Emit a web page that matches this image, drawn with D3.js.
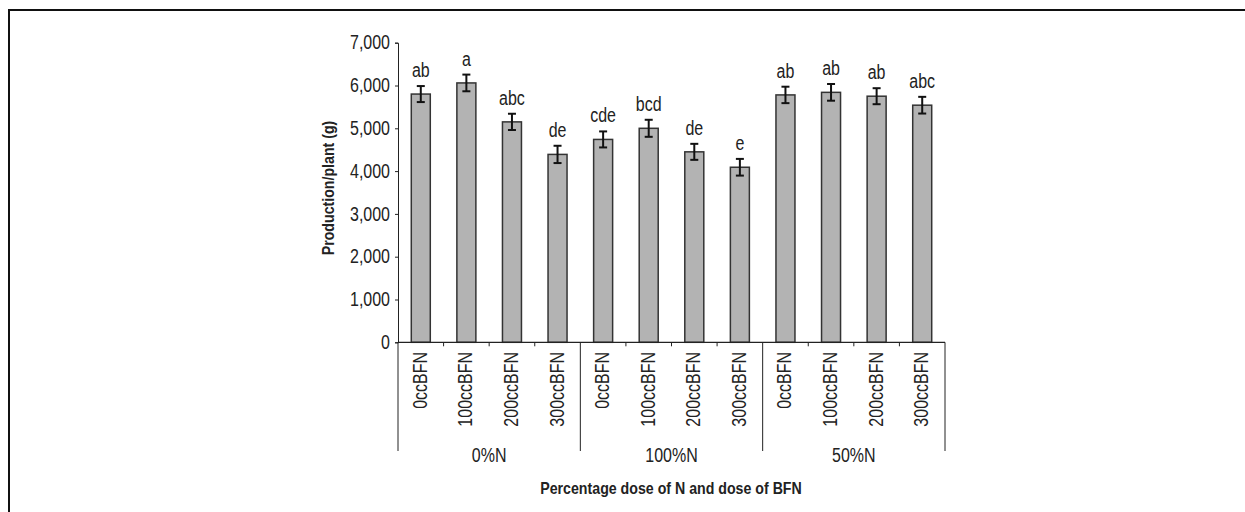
<!DOCTYPE html>
<html>
<head>
<meta charset="utf-8">
<script src="https://cdn.jsdelivr.net/npm/d3@7"></script>
<style>
  html, body { margin: 0; padding: 0; background: #fff; }
  svg { display: block; }
  text { font-family: "Liberation Sans", Arial, sans-serif; fill: #222; }
</style>
</head>
<body>
<svg id="chart" width="1245" height="512"></svg>
<script>
// Production per plant by nitrogen dose and BFN dose
const groups = ["0%N", "100%N", "50%N"];
const doses = ["0ccBFN", "100ccBFN", "200ccBFN", "300ccBFN"];
const means = [5800, 6060, 5150, 4390, 4740, 5000, 4450, 4090, 5780, 5840, 5750, 5540];
const errors = [187, 195, 190, 202, 187, 199, 187, 195, 192, 195, 187, 195];
const letters = ["ab", "a", "abc", "de", "cde", "bcd", "de", "e", "ab", "ab", "ab", "abc"];
const yTicks = [0, 1000, 2000, 3000, 4000, 5000, 6000, 7000];

const rows = [];
groups.forEach((g, gi) => doses.forEach((d, di) => {
  const i = gi * doses.length + di;
  rows.push({ key: g + "|" + d, group: g, dose: d, mean: means[i], err: errors[i], letter: letters[i] });
}));

// condensed look: horizontal squeeze of a regular sans face
const SX = 0.82;
const FS = "19.5px";
const TSX = 0.86;
const TFS = "16.5px";

const svg = d3.select("#chart");

// outer frame (open on right and bottom)
svg.append("path")
  .attr("d", "M9,512 V10 H1245")
  .attr("fill", "none").attr("stroke", "#111").attr("stroke-width", 2);

const x = d3.scaleBand().domain(rows.map(r => r.key)).range([398, 945]).padding(0);
const y = d3.scaleLinear().domain([0, 7000]).range([342.3, 42.7]);
const barW = 19;

// y axis
const yAxis = svg.append("g").attr("transform", "translate(398,0)")
  .call(d3.axisLeft(y).tickValues(yTicks).tickSize(3).tickPadding(5).tickFormat(d3.format(",")));
yAxis.select(".domain").attr("stroke", "#222");
yAxis.selectAll(".tick line").attr("stroke", "#222");
yAxis.selectAll("text")
  .style("font-size", FS).style("font-family", "Liberation Sans, Arial, sans-serif").attr("fill", "#222")
  .each(function () {
    const t = d3.select(this);
    t.attr("x", (+t.attr("x")) / SX).attr("transform", `scale(${SX},1)`);
  });

// bars
svg.append("g").selectAll("rect").data(rows).join("rect")
  .attr("x", d => x(d.key) + (x.bandwidth() - barW) / 2)
  .attr("width", barW)
  .attr("y", d => y(d.mean))
  .attr("height", d => y(0) - y(d.mean))
  .attr("fill", "#b3b3b3").attr("stroke", "#333").attr("stroke-width", 1.5);

// error bars
const eb = svg.append("g").selectAll("g").data(rows).join("g")
  .attr("transform", d => `translate(${x(d.key) + x.bandwidth() / 2},0)`);
eb.append("line").attr("y1", d => y(d.mean + d.err)).attr("y2", d => y(d.mean - d.err))
  .attr("stroke", "#111").attr("stroke-width", 2);
eb.append("line").attr("x1", -4).attr("x2", 4).attr("y1", d => y(d.mean + d.err)).attr("y2", d => y(d.mean + d.err))
  .attr("stroke", "#111").attr("stroke-width", 2);
eb.append("line").attr("x1", -4).attr("x2", 4).attr("y1", d => y(d.mean - d.err)).attr("y2", d => y(d.mean - d.err))
  .attr("stroke", "#111").attr("stroke-width", 2);

// significance letters
eb.append("text")
  .attr("transform", d => `translate(0,${y(d.mean + d.err) - 9}) scale(${SX},1)`)
  .attr("text-anchor", "middle")
  .style("font-size", FS)
  .text(d => d.letter);

// x axis baseline
svg.append("line").attr("x1", 398).attr("x2", 945).attr("y1", y(0)).attr("y2", y(0))
  .attr("stroke", "#222").attr("stroke-width", 1.2);

// small ticks between categories
const bounds = d3.range(rows.length + 1).map(i => 398 + i * x.step());
svg.append("g").selectAll("line").data(bounds.filter((b, i) => i % doses.length !== 0)).join("line")
  .attr("x1", d => d).attr("x2", d => d).attr("y1", y(0)).attr("y2", y(0) + 4)
  .attr("stroke", "#222");

// group separators
svg.append("g").selectAll("line").data(bounds.filter((b, i) => i % doses.length === 0)).join("line")
  .attr("x1", d => d).attr("x2", d => d).attr("y1", y(0)).attr("y2", 451)
  .attr("stroke", "#222");

// rotated dose labels
svg.append("g").selectAll("text").data(rows).join("text")
  .attr("transform", d => `translate(${x(d.key) + x.bandwidth() / 2 - 1},352) rotate(-90) scale(${SX},1)`)
  .attr("text-anchor", "end").attr("dy", "0.36em")
  .style("font-size", FS)
  .text(d => d.dose);

// group labels
svg.append("g").selectAll("text").data(groups).join("text")
  .attr("transform", (g, gi) => `translate(${(bounds[gi * doses.length] + bounds[(gi + 1) * doses.length]) / 2},462) scale(${SX},1)`)
  .attr("text-anchor", "middle")
  .style("font-size", FS)
  .text(g => g);

// axis titles
svg.append("text")
  .attr("transform", `translate(334,188) rotate(-90) scale(${TSX},1)`)
  .attr("text-anchor", "middle")
  .style("font-size", TFS).style("font-weight", "bold")
  .text("Production/plant (g)");

svg.append("text")
  .attr("transform", `translate(671,494) scale(${TSX},1)`)
  .attr("text-anchor", "middle")
  .style("font-size", TFS).style("font-weight", "bold")
  .text("Percentage dose of N and dose of BFN");
</script>
</body>
</html>
